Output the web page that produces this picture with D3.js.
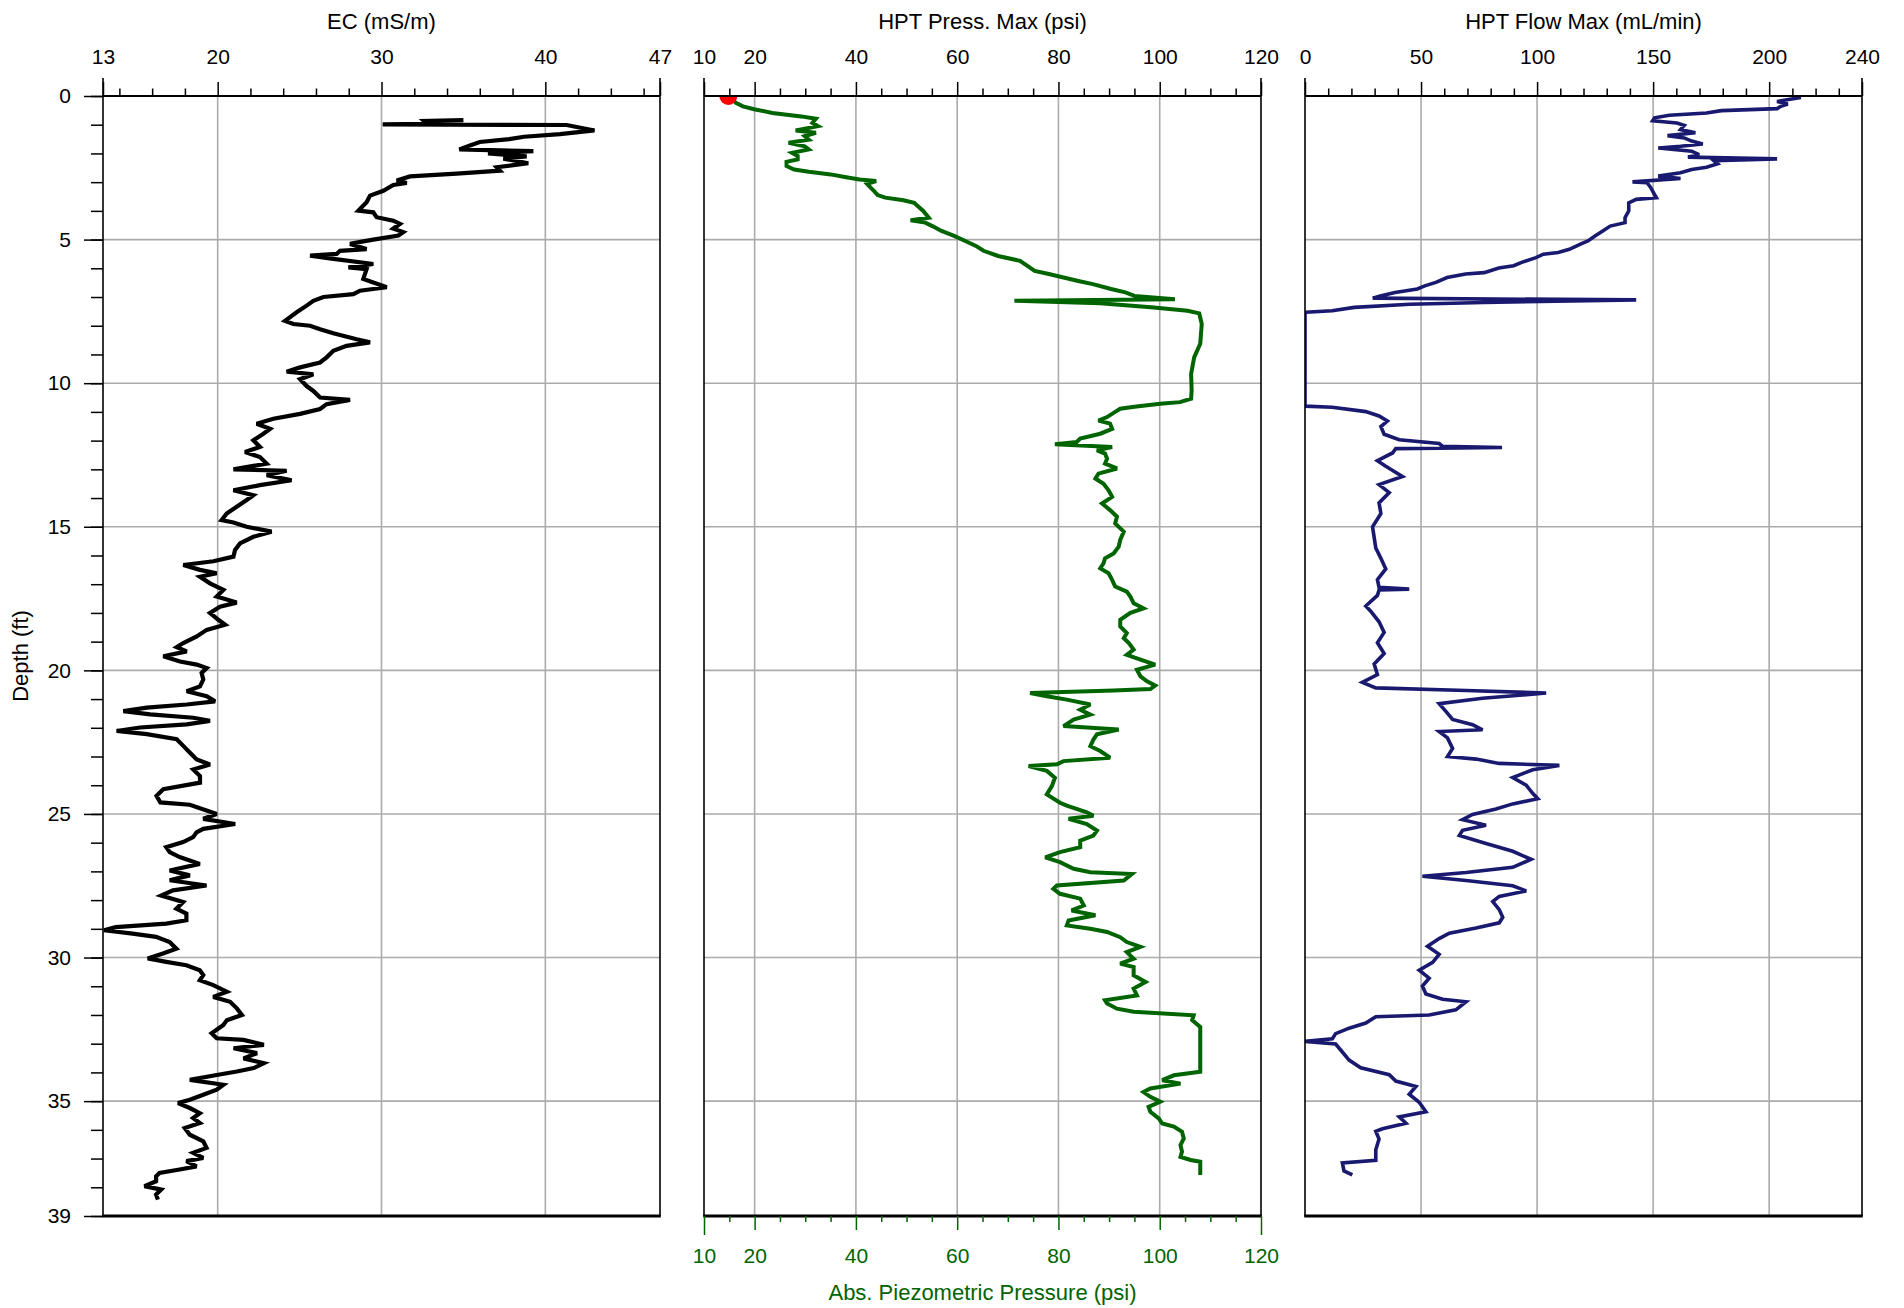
<!DOCTYPE html>
<html>
<head>
<meta charset="utf-8">
<script src="https://cdn.jsdelivr.net/npm/d3@7"></script>
<style>
body{margin:0;background:#fff;}
svg{display:block;font-family:"Liberation Sans",Arial,Helvetica,sans-serif;}
</style>
</head>
<body>
<div class="logChart"></div>
<script>
var ecDepth = [0.84,0.87,0.97,0.99,1.01,1.2,1.33,1.42,1.5,1.6,1.72,1.86,1.92,2.0,2.1,2.18,2.34,2.48,2.6,2.7,2.8,2.94,3.03,3.1,3.3,3.47,3.7,3.99,4.05,4.22,4.34,4.45,4.62,4.74,4.86,5.0,5.06,5.15,5.33,5.39,5.5,5.56,5.67,5.85,5.97,6.03,6.37,6.66,6.78,6.9,7.0,7.13,7.3,7.53,7.83,7.94,8.0,8.12,8.26,8.47,8.58,8.7,8.87,9.1,9.28,9.45,9.6,9.69,9.86,10.1,10.27,10.5,10.58,10.73,10.9,11.07,11.24,11.41,11.59,11.76,11.99,12.22,12.4,12.57,12.8,13.0,13.05,13.2,13.38,13.55,13.73,13.9,14.07,14.3,14.54,14.77,14.85,15.0,15.17,15.35,15.58,15.81,16.04,16.2,16.33,16.5,16.62,16.74,16.97,17.2,17.43,17.64,17.78,18.0,18.24,18.41,18.59,18.82,19.05,19.19,19.34,19.51,19.69,19.8,19.92,20.09,20.32,20.56,20.73,20.9,21.08,21.19,21.3,21.42,21.53,21.65,21.76,21.88,21.99,22.11,22.22,22.4,22.63,22.87,23.1,23.28,23.45,23.68,23.91,24.14,24.37,24.6,24.68,24.88,25.0,25.17,25.35,25.52,25.64,25.81,25.98,26.16,26.33,26.5,26.74,26.97,27.14,27.31,27.49,27.66,27.84,28.07,28.3,28.47,28.7,28.82,28.94,29.05,29.17,29.28,29.46,29.69,29.86,30.03,30.15,30.27,30.44,30.61,30.79,30.96,31.19,31.37,31.54,31.77,32.0,32.18,32.35,32.64,32.81,32.87,33.04,33.16,33.33,33.51,33.68,33.85,33.97,34.09,34.26,34.43,34.6,34.78,34.95,35.07,35.24,35.42,35.59,35.76,35.94,36.17,36.4,36.63,36.8,36.98,37.09,37.27,37.38,37.5,37.62,37.79,37.96,38.08,38.25,38.43];
var ecValue = [35.0,32.6,32.8,30.07,41.3,43.0,40.9,38.7,37.8,36.0,35.4,34.75,39.27,36.5,38.86,37.44,38.96,37.03,37.23,34.59,31.74,30.93,31.54,30.72,30.11,29.3,29.09,28.59,29.5,29.7,30.72,31.13,30.72,31.33,31.03,29.5,28.89,28.08,29.09,27.47,27.26,25.64,27.06,29.5,27.98,29.09,28.89,30.32,28.69,28.28,26.45,25.84,25.43,24.82,24.11,24.62,25.64,26.25,27.06,28.48,29.3,27.87,27.06,26.65,26.25,25.03,24.21,25.84,25.03,25.43,25.84,26.25,28.08,26.65,26.25,25.03,23.4,22.38,23.2,22.79,22.18,22.58,21.67,22.58,22.99,20.96,24.21,22.99,24.51,22.58,20.96,22.18,21.77,21.16,20.55,20.24,20.96,21.77,23.29,22.18,21.36,21.06,20.96,19.74,17.9,18.92,19.94,18.92,19.53,20.35,19.94,21.16,20.14,19.53,20.04,20.45,19.33,18.72,17.9,17.5,18.11,16.68,17.7,18.72,19.33,19.02,19.12,18.92,18.11,19.33,19.84,18.11,15.67,14.24,15.88,18.51,19.53,18.11,15.26,13.83,15.67,17.5,17.9,18.31,18.72,19.53,18.51,18.92,18.92,16.68,16.27,16.5,18.3,19.32,19.94,19.12,21.07,19.12,18.71,18.5,17.89,16.86,17.07,17.68,18.91,17.07,18.3,17.07,19.32,17.27,16.55,17.89,17.48,18.09,18.09,16.86,13.78,13.06,14.81,16.24,17.07,17.48,16.66,15.73,16.86,18.09,18.91,19.12,18.91,19.73,20.56,19.73,20.76,21.17,21.48,20.56,20.35,19.63,19.94,21.58,22.82,20.97,22.4,21.58,22.82,22.2,21.17,19.94,18.3,20.35,19.94,19.12,18.3,17.58,18.3,18.91,18.5,18.91,17.99,18.3,19.12,19.32,18.5,19.12,18.09,18.71,17.68,16.45,16.24,16.24,15.53,16.55,16.24,16.35];

var pressDepth = [0.15,0.24,0.36,0.46,0.59,0.71,0.79,0.94,1.05,1.2,1.28,1.4,1.52,1.63,1.75,1.86,1.98,2.09,2.21,2.29,2.44,2.56,2.64,2.73,2.82,2.91,2.96,3.06,3.19,3.31,3.45,3.54,3.63,3.72,3.83,4.0,4.24,4.33,4.41,4.53,4.7,4.87,5.05,5.22,5.39,5.57,5.74,5.91,6.09,6.2,6.32,6.44,6.55,6.72,6.84,6.96,7.08,7.13,7.22,7.36,7.48,7.57,7.94,8.63,9.1,9.68,10.25,10.54,10.66,10.72,10.82,10.89,11.0,11.18,11.3,11.41,11.59,11.76,11.93,12.05,12.13,12.22,12.34,12.45,12.63,12.8,12.97,13.15,13.32,13.5,13.73,13.96,14.19,14.42,14.65,14.88,15.17,15.46,15.69,15.93,16.1,16.27,16.45,16.62,16.85,17.08,17.26,17.43,17.66,17.84,18.0,18.24,18.47,18.7,18.88,19.05,19.28,19.46,19.63,19.8,19.98,20.21,20.38,20.53,20.65,20.7,20.79,20.9,21.02,21.19,21.37,21.54,21.71,21.94,22.06,22.23,22.41,22.64,22.81,23.04,23.16,23.27,23.33,23.5,23.74,24.03,24.32,24.61,24.71,24.94,25.06,25.17,25.35,25.58,25.75,25.93,26.16,26.33,26.51,26.68,26.91,27.03,27.09,27.32,27.49,27.61,27.78,27.95,28.19,28.36,28.53,28.71,28.88,29.0,29.11,29.29,29.46,29.63,29.81,30.04,30.21,30.33,30.62,30.85,31.08,31.32,31.49,31.6,31.78,31.89,32.01,32.18,32.42,33.98,34.1,34.27,34.39,34.56,34.68,34.85,35.02,35.2,35.37,35.6,35.78,35.89,36.07,36.3,36.53,36.76,36.94,37.05,37.11,37.57];
var pressValue = [15.8,16.3,17.7,19.9,23.5,29.2,32.1,31.4,32.5,28.1,32.1,29.9,30.7,26.7,29.9,30.7,27.4,28.5,28.5,26.3,26.3,27.8,30.7,35.0,37.8,40.7,44.0,42.2,42.9,43.6,44.3,45.8,49.4,51.5,52.2,53.3,54.4,50.8,53.7,55.1,56.9,59.4,61.6,63.7,65.2,68.1,72.4,73.8,75.3,78.1,81.0,83.9,86.8,90.4,93.2,95.0,103.0,71.3,88.2,98.3,105.5,107.8,108.3,108.0,106.8,106.2,106.3,106.2,104.0,100.1,95.0,92.2,91.2,89.6,87.9,90.2,90.6,88.25,84.3,83.6,79.3,90.6,87.6,89.2,89.6,89.2,91.55,87.9,87.3,88.9,89.9,90.6,88.6,90.2,91.55,91.2,92.9,92.2,91.9,90.9,89.2,88.9,88.25,89.9,90.6,91.2,93.5,94.2,94.85,96.8,94.2,92.2,92.2,93.5,92.9,93.9,94.85,93.5,96.2,99.1,95.5,96.2,97.5,99.1,98.15,90.9,74.4,77.7,81.65,86.3,84.3,86.3,83.0,81.0,91.9,87.6,86.9,86.3,88.25,90.2,81.0,79.7,74.1,77.7,79.3,78.7,77.7,80.3,81.65,85.6,86.9,82.0,85.6,87.6,86.9,84.3,84.3,80.3,77.4,80.3,83.0,86.3,94.5,92.9,79.7,79.0,80.3,84.3,85.0,82.6,87.3,82.0,81.65,86.3,89.6,92.2,93.5,96.2,93.5,94.85,92.2,94.85,94.85,97.2,94.85,95.5,89.2,89.6,91.55,94.85,106.7,106.4,108.0,108.0,102.8,100.5,104.1,98.15,96.8,98.15,100.1,97.8,98.15,99.8,100.5,102.8,104.4,104.75,104.1,104.4,104.1,106.1,108.0,108.0];

var flowDepth = [0.05,0.19,0.28,0.36,0.44,0.51,0.59,0.67,0.76,0.86,0.94,1.02,1.17,1.28,1.38,1.46,1.57,1.67,1.75,1.81,1.92,2.04,2.13,2.19,2.25,2.36,2.48,2.56,2.67,2.79,2.87,2.99,3.02,3.19,3.43,3.54,3.6,3.72,4.0,4.24,4.41,4.53,4.7,4.87,5.05,5.16,5.34,5.45,5.51,5.63,5.8,5.91,5.99,6.15,6.2,6.32,6.49,6.61,6.72,6.84,6.96,7.04,7.1,7.19,7.25,7.36,7.48,7.53,7.59,10.8,10.84,10.99,11.14,11.32,11.51,11.78,11.97,12.1,12.2,12.24,12.28,12.43,12.7,12.89,13.25,13.53,13.81,14.17,14.54,15.0,15.37,15.74,16.1,16.47,16.84,17.11,17.17,17.2,17.39,17.76,17.94,18.31,18.68,19.04,19.41,19.78,20.15,20.42,20.61,20.7,20.79,20.97,21.16,21.43,21.71,21.89,22.07,22.13,22.35,22.72,23.0,23.09,23.24,23.31,23.46,23.73,24.0,24.28,24.47,24.65,24.83,25.02,25.2,25.39,25.57,25.75,26.03,26.3,26.58,26.86,27.04,27.17,27.32,27.5,27.68,27.87,28.05,28.33,28.6,28.79,28.97,29.15,29.34,29.61,29.89,30.17,30.44,30.72,30.99,31.27,31.45,31.54,31.82,32.0,32.06,32.28,32.46,32.65,32.83,32.92,33.01,33.29,33.57,33.84,34.08,34.3,34.49,34.76,35.04,35.37,35.55,35.77,35.96,36.05,36.32,36.69,37.06,37.15,37.43,37.57];
var flowValue = [213.7,203.4,208,205,203.4,179.4,173,157,150.6,149.8,160.2,163.4,161.8,168.2,156.2,163.4,166.6,171.4,161.8,152.2,166.6,169.8,165,203.4,176.2,177.8,173,166.6,161.8,152.2,161.8,141.1,147.4,149,150.6,151.4,142.7,139.5,139.5,137.9,137.9,131.5,128.3,125.1,121.9,118.7,113.9,109.1,102.7,99.5,93.1,89.9,83.5,77.2,69.2,61.2,56.4,51.6,48.4,38.8,32.4,29.2,142.7,77.2,45.2,21.2,11.7,0.5,0,0,11.7,26.2,31.9,35.5,32.7,34.1,40.6,57.8,59.3,84.9,39.1,37.7,31.2,34.8,42.0,31.9,36.3,31.9,32.7,29.1,29.8,30.5,32.7,34.8,31.2,31.9,44.9,31.9,31.2,26.2,28.3,31.9,34.1,31.2,34.1,29.8,31.2,24.7,30.5,69.4,103.9,76.5,57.8,60.7,63.6,72.2,76.5,57.8,61.4,63.6,61.4,73.7,83.7,109.6,98.1,89.5,95.3,98.1,100.3,89.5,82.3,72.2,67.9,78,67.9,66.5,78,89.5,97.4,89.5,69.4,50.6,69.4,89.5,95.3,83.7,80.9,83.7,85.2,83.7,73.7,62.2,57.8,52.8,57.8,55.0,49.2,53.5,50.6,52.1,59.3,69.4,65.0,53.5,30.5,26.2,19.0,13.2,11.8,0,13.2,16.1,19.0,24.0,36.3,39.1,47.8,44.9,49.2,52.1,40.6,43.5,33.4,30.5,31.9,30.5,30.5,16.1,16.8,20.4];

// start marker of the pressure log
var pressStart = {depth: 0.0, value: 14.8};

// ---- tick labels ----
var ecTicks = [13, 20, 30, 40, 47];
var ecMinor = [14,16,18,22,24,26,28,32,34,36,38,42,44,46];
var ecGrid = [20, 30, 40];
var pressTicks = [10, 20, 40, 60, 80, 100, 120];
var pressMinor = [15,25,30,35,45,50,55,65,70,75,85,90,95,105,110,115];
var pressGrid = [20, 40, 60, 80, 100];
var flowTicks = [0, 50, 100, 150, 200, 240];
var flowMinor = [10,20,30,40,60,70,80,90,110,120,130,140,160,170,180,190,210,220,230];
var flowGrid = [50, 100, 150, 200];
var depthTicks = [0, 5, 10, 15, 20, 25, 30, 35, 39];
var depthGrid = [5, 10, 15, 20, 25, 30, 35];

function drawLog()
{
    var w = 1904;
    var h = 1308;
    var plotTop = 96;
    var plotBottom = 1216;
    var panelW = 557;
    var gridColor = "#ababab";
    var green = "#006400";

    var svg = d3.select(".logChart")
                .append("svg")
                .attr("width", w)
                .attr("height", h);
    svg.append("rect").attr("width", w).attr("height", h).attr("fill", "#fff");

    var yScale = d3.scaleLinear()
        .domain([0, 39])
        .range([plotTop, plotBottom]);

    var panels = [
        {title: "EC (mS/m)", left: 103, domain: [13, 47], ticks: ecTicks, minor: ecMinor, grid: ecGrid,
         depth: ecDepth, value: ecValue, color: "#000", width: 4.2},
        {title: "HPT Press. Max (psi)", left: 704, domain: [10, 120], ticks: pressTicks, minor: pressMinor, grid: pressGrid,
         depth: pressDepth, value: pressValue, color: green, width: 4},
        {title: "HPT Flow Max (mL/min)", left: 1305, domain: [0, 240], ticks: flowTicks, minor: flowMinor, grid: flowGrid,
         depth: flowDepth, value: flowValue, color: "#191970", width: 3.6}
    ];

    panels.forEach(function(p, idx){
        var xScale = d3.scaleLinear()
            .domain(p.domain)
            .range([p.left, p.left + panelW]);
        p.x = xScale;
        var g = svg.append("g").attr("class", "panel" + idx);

        // clip for the marks
        svg.append("clipPath").attr("id", "clip" + idx)
            .append("rect")
            .attr("x", p.left).attr("y", plotTop)
            .attr("width", panelW).attr("height", plotBottom - plotTop);

        // grid
        g.selectAll(".vgrid")
            .data(p.grid)
            .enter()
            .append("line")
            .attr("x1", function(d){ return xScale(d); })
            .attr("x2", function(d){ return xScale(d); })
            .attr("y1", plotTop)
            .attr("y2", plotBottom)
            .attr("stroke", gridColor)
            .attr("stroke-width", 1.6);
        g.selectAll(".hgrid")
            .data(depthGrid)
            .enter()
            .append("line")
            .attr("x1", p.left)
            .attr("x2", p.left + panelW)
            .attr("y1", function(d){ return yScale(d); })
            .attr("y2", function(d){ return yScale(d); })
            .attr("stroke", gridColor)
            .attr("stroke-width", 1.6);

        // curve
        var pts = p.depth.map(function(d, i){ return [p.value[i], d]; });
        var line = d3.line()
            .x(function(d){ return xScale(d[0]); })
            .y(function(d){ return yScale(d[1]); });
        g.append("path")
            .datum(pts)
            .attr("clip-path", "url(#clip" + idx + ")")
            .attr("d", line)
            .attr("fill", "none")
            .attr("stroke", p.color)
            .attr("stroke-width", p.width)
            .attr("stroke-linejoin", "miter")
            .attr("stroke-miterlimit", 3);

        if(idx == 1){
            g.append("circle")
                .attr("clip-path", "url(#clip" + idx + ")")
                .attr("cx", xScale(pressStart.value))
                .attr("cy", yScale(pressStart.depth))
                .attr("r", 9)
                .attr("fill", "#ff0000");
        }

        // top axis, major + minor
        var major = g.append("g")
            .attr("transform", "translate(0," + plotTop + ")")
            .call(d3.axisTop(xScale).tickValues(p.ticks).tickSize(14).tickPadding(18).tickFormat(d3.format("d")));
        var minor = g.append("g")
            .attr("transform", "translate(0," + plotTop + ")")
            .call(d3.axisTop(xScale).tickValues(p.minor).tickSize(7.5).tickFormat(""));
        [major, minor].forEach(function(a){
            a.select(".domain").remove();
            a.selectAll("line").attr("stroke", "#000").attr("stroke-width", 1.5);
        });
        major.selectAll("text")
            .attr("fill", "#000")
            .attr("font-size", 21)
            .attr("font-family", null);

        // frame
        g.append("line").attr("x1", p.left).attr("x2", p.left)
            .attr("y1", plotTop - 18).attr("y2", plotBottom)
            .attr("stroke", "#000").attr("stroke-width", 1.6);
        g.append("line").attr("x1", p.left + panelW).attr("x2", p.left + panelW)
            .attr("y1", plotTop - 18).attr("y2", plotBottom)
            .attr("stroke", "#000").attr("stroke-width", 1.6);
        g.append("line").attr("x1", p.left).attr("x2", p.left + panelW)
            .attr("y1", plotTop).attr("y2", plotTop)
            .attr("stroke", "#000").attr("stroke-width", 2);
        g.append("line").attr("x1", p.left - 0.8).attr("x2", p.left + panelW + 0.8)
            .attr("y1", plotBottom).attr("y2", plotBottom)
            .attr("stroke", "#000").attr("stroke-width", 3);

        svg.append("text")
            .attr("x", p.left + panelW / 2)
            .attr("y", 29)
            .attr("text-anchor", "middle")
            .attr("font-size", 22)
            .text(p.title);
    });

    // depth axis on the first panel
    var left = panels[0].left;
    var dMajor = svg.append("g")
        .attr("transform", "translate(" + left + ",0)")
        .call(d3.axisLeft(yScale).tickValues(depthTicks).tickSize(19).tickPadding(13).tickFormat(d3.format("d")));
    var dMinor = svg.append("g")
        .attr("transform", "translate(" + left + ",0)")
        .call(d3.axisLeft(yScale).tickValues(d3.range(0, 40)).tickSize(12).tickFormat(""));
    [dMajor, dMinor].forEach(function(a){
        a.select(".domain").remove();
        a.selectAll("line").attr("stroke", "#000").attr("stroke-width", 1.5);
    });
    dMajor.selectAll("text").attr("fill", "#000").attr("font-size", 21).attr("font-family", null);

    svg.append("text")
        .attr("transform", "translate(28," + (plotTop + plotBottom) / 2 + ") rotate(-90)")
        .attr("text-anchor", "middle")
        .attr("font-size", 22)
        .text("Depth (ft)");

    // absolute piezometric pressure axis under the pressure panel
    var px = panels[1].x;
    var bMajor = svg.append("g")
        .attr("transform", "translate(0," + plotBottom + ")")
        .call(d3.axisBottom(px).tickValues(pressTicks).tickSize(14).tickPadding(18).tickFormat(d3.format("d")));
    var bMinor = svg.append("g")
        .attr("transform", "translate(0," + plotBottom + ")")
        .call(d3.axisBottom(px).tickValues(pressMinor).tickSize(6).tickFormat(""));
    [bMajor, bMinor].forEach(function(a){
        a.select(".domain").remove();
        a.selectAll("line").attr("stroke", green).attr("stroke-width", 1.5);
    });
    bMajor.selectAll(".tick line")
        .attr("y2", function(d){ return (d == 10 || d == 120) ? 19 : 14; });
    bMajor.selectAll("text").attr("fill", green).attr("font-size", 21).attr("font-family", null);

    svg.append("text")
        .attr("x", panels[1].left + panelW / 2)
        .attr("y", 1300)
        .attr("text-anchor", "middle")
        .attr("font-size", 22)
        .attr("fill", green)
        .text("Abs. Piezometric Pressure (psi)");
}
drawLog();
</script>
</body>
</html>
